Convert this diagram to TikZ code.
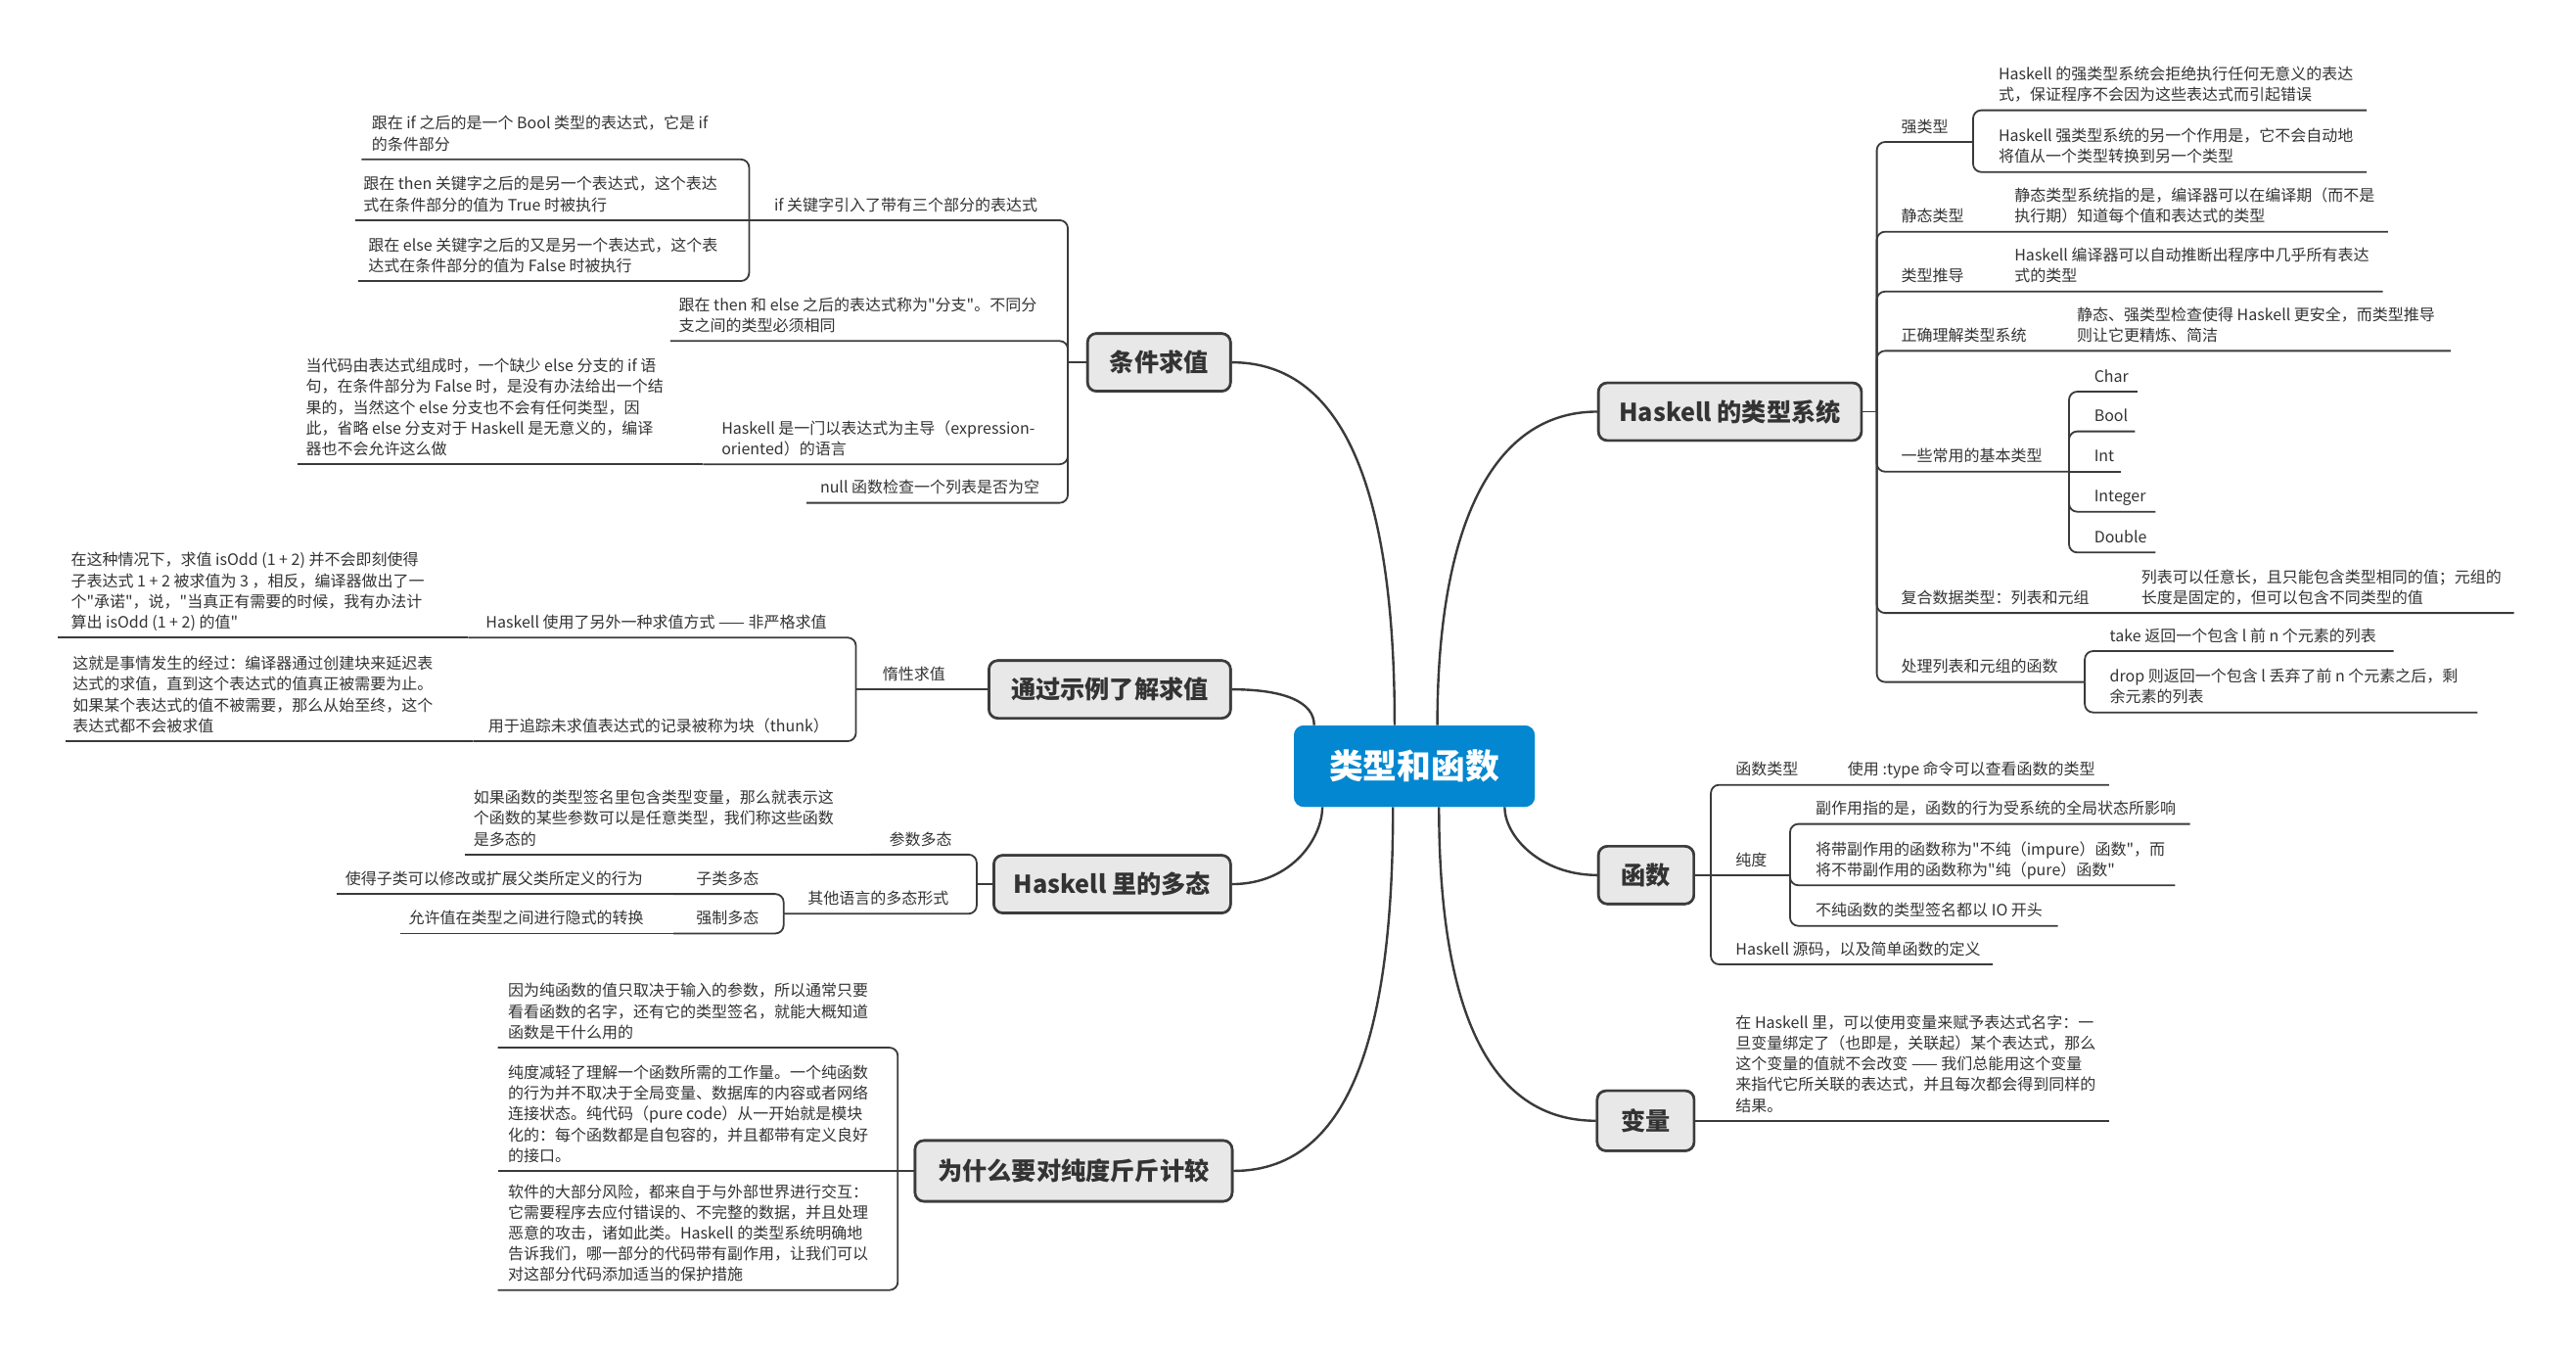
\documentclass[tikz,border=0pt]{standalone}
\usepackage{fontspec}
\setmainfont{Noto Sans CJK SC}[Ligatures=TeXOff]
\usetikzlibrary{calc}
\definecolor{linec}{HTML}{3A3A3A}
\definecolor{textc}{HTML}{333333}
\definecolor{boxfill}{HTML}{E8E8E8}
\definecolor{boxline}{HTML}{3C3C3C}
\definecolor{rootblue}{HTML}{0387D0}
\newcommand\leaffont{\fontsize{8}{10.6}\selectfont}
\newcommand\topicfont{\fontsize{12.6}{15}\selectfont\bfseries}
\newcommand\rootfont{\fontsize{17.4}{20}\selectfont\bfseries}
\tikzset{
  conn/.style={draw=linec, line width=0.9pt, rounded corners=4.2pt},
  branch/.style={draw=linec, line width=1.2pt},
  topic/.style={draw=boxline, fill=boxfill, line width=1.3pt, rounded corners=4.5pt,
    font=\topicfont, text=textc, minimum height=29.4pt, inner sep=0pt},
  root/.style={fill=rootblue, rounded corners=5pt, font=\rootfont, text=white,
    minimum width=123pt, minimum height=41.5pt, inner sep=0pt},
  txt/.style={anchor=south west, inner sep=0pt, align=left, font=\leaffont,
    text=textc, execute at end node=\strut},
}
\begin{document}
\begin{tikzpicture}[x=0.8393pt, y=-0.8393pt]
\useasboundingbox (0,0) rectangle (1568,824);

% ---------- central idea and main topics ----------
\node[root] (c) at (860.9,466.2) {类型和函数};
\node[topic, minimum width=73pt] (A) at (705.5,220.5) {条件求值};
\node[topic, minimum width=123.4pt] (B) at (675.5,419.5) {通过示例了解求值};
\node[topic, minimum width=120.9pt] (C) at (677,538) {Haskell 里的多态};
\node[topic, minimum width=162pt, minimum height=31pt] (D) at (653.5,712.5) {为什么要对纯度斤斤计较};
\node[topic, minimum width=134.3pt] (E) at (1053,250.5) {Haskell 的类型系统};
\node[topic, minimum width=48.7pt] (F) at (1002,532.5) {函数};
\node[topic, minimum width=49.5pt, minimum height=30.6pt] (G) at (1001.7,682) {变量};

% ---------- curved main branches ----------
\draw[branch] (A.east) .. controls (810,220.5) and ($(c.north)+(-12,-160)$) .. ($(c.north)+(-12,0)$);
\draw[branch] (B.east) .. controls (782,419.5) and ($(c.north)+(-61,-14)$) .. ($(c.north)+(-61,0)$);
\draw[branch] (C.east) .. controls (787,538) and ($(c.south)+(-56,18)$) .. ($(c.south)+(-56,0)$);
\draw[branch] (D.east) .. controls (825,712.5) and ($(c.south)+(-13,130)$) .. ($(c.south)+(-13,0)$);
\draw[branch] (E.west) .. controls (908,250.5) and ($(c.north)+(14,-120)$) .. ($(c.north)+(14,0)$);
\draw[branch] (F.west) .. controls (938,532.5) and ($(c.south)+(55,18)$) .. ($(c.south)+(55,0)$);
\draw[branch] (G.west) .. controls (900,682) and ($(c.south)+(15,110)$) .. ($(c.south)+(15,0)$);
\node[root] at (c) {类型和函数};

% ---------- 条件求值 ----------
\coordinate (jA) at (650,220.5);
\coordinate (jA1) at (456,134);
\coordinate (jA1a) at (220,97);
\coordinate (jA1b) at (216,134);
\coordinate (jA1c) at (218,171);
\coordinate (jA2) at (408,207.5);
\coordinate (jA3) at (428,282.5);
\coordinate (jA3a) at (181,282.5);
\coordinate (jA4) at (491,306);
\draw[conn] (A.west) -- (jA);
\draw[conn] (jA) |- (jA1);
\draw[conn] (jA1) |- (jA1a);
\draw[conn] (jA1) -- (jA1b);
\draw[conn] (jA1) |- (jA1c);
\draw[conn] (jA) |- (jA2);
\draw[conn] (jA) |- (jA3);
\draw[conn] (jA3) -- (jA3a);
\draw[conn] (jA) |- (jA4);
\node[txt] (tA1) at (471,132.2) {if 关键字引入了带有三个部分的表达式};
\node[txt] (tA1a) at (226,95.2) {跟在 if 之后的是一个 Bool 类型的表达式，它是 if\\的条件部分};
\node[txt] (tA1b) at (221,132.2) {跟在 then 关键字之后的是另一个表达式，这个表达\\式在条件部分的值为 True 时被执行};
\node[txt] (tA1c) at (224,169.2) {跟在 else 关键字之后的又是另一个表达式，这个表\\达式在条件部分的值为 False 时被执行};
\node[txt] (tA2) at (413,205.7) {跟在 then 和 else 之后的表达式称为"分支"。不同分\\支之间的类型必须相同};
\node[txt] (tA3) at (439,280.7) {Haskell 是一门以表达式为主导（expression-\\oriented）的语言};
\node[txt] (tA3a) at (186,280.7) {当代码由表达式组成时，一个缺少 else 分支的 if 语\\句，在条件部分为 False 时，是没有办法给出一个结\\果的，当然这个 else 分支也不会有任何类型，因\\此，省略 else 分支对于 Haskell 是无意义的，编译\\器也不会允许这么做};
\node[txt] (tA4) at (499,304.2) {null 函数检查一个列表是否为空};

% ---------- 通过示例了解求值 ----------
\coordinate (jB) at (521,419.5);
\coordinate (jB1) at (285,388);
\coordinate (jB1a) at (35,388);
\coordinate (jB2) at (288,451);
\coordinate (jB2a) at (40,451);
\draw[conn] (B.west) -- (jB);
\draw[conn] (jB) |- (jB1);
\draw[conn] (jB1) -- (jB1a);
\draw[conn] (jB) |- (jB2);
\draw[conn] (jB2) -- (jB2a);
\node[txt] (tB) at (537,417.7) {惰性求值};
\node[txt] (tB1) at (295.5,386.2) {Haskell 使用了另外一种求值方式 —— 非严格求值};
\node[txt] (tB1a) at (43,386.2) {在这种情况下，求值 isOdd (1 + 2) 并不会即刻使得\\子表达式 1 + 2 被求值为 3 ，相反，编译器做出了一\\个"承诺"，说，"当真正有需要的时候，我有办法计\\算出 isOdd (1 + 2) 的值"};
\node[txt] (tB2) at (297,449.2) {用于追踪未求值表达式的记录被称为块（thunk）};
\node[txt] (tB2a) at (44,449.2) {这就是事情发生的经过：编译器通过创建块来延迟表\\达式的求值，直到这个表达式的值真正被需要为止。\\如果某个表达式的值不被需要，那么从始至终，这个\\表达式都不会被求值};

% ---------- Haskell 里的多态 ----------
\coordinate (jC) at (594.5,538);
\coordinate (jC1) at (530,520);
\coordinate (jC1a) at (283,520);
\coordinate (jC2) at (477,556);
\coordinate (jC2a) at (410,544);
\coordinate (jC2a1) at (205,544);
\coordinate (jC2b) at (410,568);
\coordinate (jC2b1) at (243.5,568);
\draw[conn] (C.west) -- (jC);
\draw[conn] (jC) |- (jC1);
\draw[conn] (jC1) -- (jC1a);
\draw[conn] (jC) |- (jC2);
\draw[conn] (jC2) |- (jC2a);
\draw[conn] (jC2a) -- (jC2a1);
\draw[conn] (jC2) |- (jC2b);
\draw[conn] (jC2b) -- (jC2b1);
\node[txt] (tC1) at (541,518.2) {参数多态};
\node[txt] (tC1a) at (288,518.2) {如果函数的类型签名里包含类型变量，那么就表示这\\个函数的某些参数可以是任意类型，我们称这些函数\\是多态的};
\node[txt] (tC2) at (491.5,554.2) {其他语言的多态形式};
\node[txt] (tC2a) at (423.5,542.2) {子类多态};
\node[txt] (tC2a1) at (210,542.2) {使得子类可以修改或扩展父类所定义的行为};
\node[txt] (tC2b) at (423.5,566.2) {强制多态};
\node[txt] (tC2b1) at (248.5,566.2) {允许值在类型之间进行隐式的转换};

% ---------- 为什么要对纯度斤斤计较 ----------
\coordinate (jD) at (546.5,712.5);
\coordinate (jD1) at (303,637.5);
\coordinate (jD2) at (303,712.5);
\coordinate (jD3) at (303,785);
\draw[conn] (D.west) -- (jD);
\draw[conn] (jD) |- (jD1);
\draw[conn] (jD) -- (jD2);
\draw[conn] (jD) |- (jD3);
\node[txt] (tD1) at (309,635.7) {因为纯函数的值只取决于输入的参数，所以通常只要\\看看函数的名字，还有它的类型签名，就能大概知道\\函数是干什么用的};
\node[txt] (tD2) at (309,710.7) {纯度减轻了理解一个函数所需的工作量。一个纯函数\\的行为并不取决于全局变量、数据库的内容或者网络\\连接状态。纯代码（pure code）从一开始就是模块\\化的：每个函数都是自包容的，并且都带有定义良好\\的接口。};
\node[txt] (tD3) at (309,783.2) {软件的大部分风险，都来自于与外部世界进行交互：\\它需要程序去应付错误的、不完整的数据，并且处理\\恶意的攻击，诸如此类。Haskell 的类型系统明确地\\告诉我们，哪一部分的代码带有副作用，让我们可以\\对这部分代码添加适当的保护措施};

% ---------- Haskell 的类型系统 ----------
\coordinate (jE) at (1142.4,250.5);
\coordinate (jE1) at (1201,86.4);
\coordinate (jE1a) at (1440.6,67.1);
\coordinate (jE1b) at (1440.6,104.7);
\coordinate (jE2) at (1453.6,141);
\coordinate (jE3) at (1450.4,177.4);
\coordinate (jE4) at (1491.7,213.5);
\coordinate (jE5) at (1259.4,287);
\coordinate (jE5a) at (1301,238.3);
\coordinate (jE5b) at (1299.6,262.5);
\coordinate (jE5c) at (1291,287);
\coordinate (jE5d) at (1312,311.4);
\coordinate (jE5e) at (1312,336.2);
\coordinate (jE6) at (1530.3,373);
\coordinate (jE7) at (1269,415);
\coordinate (jE7a) at (1457,396.2);
\coordinate (jE7b) at (1508,433.5);
\draw[conn] (E.east) -- (jE);
\draw[conn] (jE) |- (jE1);
\draw[conn] (jE1) |- (jE1a);
\draw[conn] (jE1) |- (jE1b);
\draw[conn] (jE) |- (jE2);
\draw[conn] (jE) |- (jE3);
\draw[conn] (jE) |- (jE4);
\draw[conn] (jE) |- (jE5);
\draw[conn] (jE5) |- (jE5a);
\draw[conn] (jE5) |- (jE5b);
\draw[conn] (jE5) -- (jE5c);
\draw[conn] (jE5) |- (jE5d);
\draw[conn] (jE5) |- (jE5e);
\draw[conn] (jE) |- (jE6);
\draw[conn] (jE) |- (jE7);
\draw[conn] (jE7) |- (jE7a);
\draw[conn] (jE7) |- (jE7b);
\node[txt] (tE1) at (1157,84.6) {强类型};
\node[txt] (tE1a) at (1216.3,65.3) {Haskell 的强类型系统会拒绝执行任何无意义的表达\\式，保证程序不会因为这些表达式而引起错误};
\node[txt] (tE1b) at (1216.3,102.9) {Haskell 强类型系统的另一个作用是，它不会自动地\\将值从一个类型转换到另一个类型};
\node[txt] (tE2) at (1157,139.2) {静态类型};
\node[txt] (tE2a) at (1226,139.2) {静态类型系统指的是，编译器可以在编译期（而不是\\执行期）知道每个值和表达式的类型};
\node[txt] (tE3) at (1157,175.6) {类型推导};
\node[txt] (tE3a) at (1226,175.6) {Haskell 编译器可以自动推断出程序中几乎所有表达\\式的类型};
\node[txt] (tE4) at (1157,211.7) {正确理解类型系统};
\node[txt] (tE4a) at (1264,211.7) {静态、强类型检查使得 Haskell 更安全，而类型推导\\则让它更精炼、简洁};
\node[txt] (tE5) at (1157,285.2) {一些常用的基本类型};
\node[txt] (tE5a) at (1274.5,236.5) {Char};
\node[txt] (tE5b) at (1274.5,260.7) {Bool};
\node[txt] (tE5c) at (1274.5,285.2) {Int};
\node[txt] (tE5d) at (1274.5,309.6) {Integer};
\node[txt] (tE5e) at (1274.5,334.4) {Double};
\node[txt] (tE6) at (1157,371.2) {复合数据类型：列表和元组};
\node[txt] (tE6a) at (1303.2,371.2) {列表可以任意长，且只能包含类型相同的值；元组的\\长度是固定的，但可以包含不同类型的值};
\node[txt] (tE7) at (1157,413.2) {处理列表和元组的函数};
\node[txt] (tE7a) at (1284,394.4) {take 返回一个包含 l 前 n 个元素的列表};
\node[txt] (tE7b) at (1284,431.7) {drop 则返回一个包含 l 丢弃了前 n 个元素之后，剩\\余元素的列表};

% ---------- 函数 ----------
\coordinate (jF) at (1041.4,532.5);
\coordinate (jF1) at (1283.8,477.6);
\coordinate (jF2) at (1089.6,532.5);
\coordinate (jF2a) at (1333,501.4);
\coordinate (jF2b) at (1324,538.7);
\coordinate (jF2c) at (1252.6,563.4);
\coordinate (jF3) at (1213,586.8);
\draw[conn] (F.east) -- (jF);
\draw[conn] (jF) |- (jF1);
\draw[conn] (jF) -- (jF2);
\draw[conn] (jF2) |- (jF2a);
\draw[conn] (jF2) |- (jF2b);
\draw[conn] (jF2) |- (jF2c);
\draw[conn] (jF) |- (jF3);
\node[txt] (tF1) at (1056.3,475.8) {函数类型};
\node[txt] (tF1a) at (1124.5,475.8) {使用 :type 命令可以查看函数的类型};
\node[txt] (tF2) at (1056.3,530.7) {纯度};
\node[txt] (tF2a) at (1105,499.6) {副作用指的是，函数的行为受系统的全局状态所影响};
\node[txt] (tF2b) at (1105,536.9) {将带副作用的函数称为"不纯（impure）函数"，而\\将不带副作用的函数称为"纯（pure）函数"};
\node[txt] (tF2c) at (1105,561.6) {不纯函数的类型签名都以 IO 开头};
\node[txt] (tF3) at (1056.3,585) {Haskell 源码，以及简单函数的定义};

% ---------- 变量 ----------
\coordinate (jG) at (1283.8,682);
\draw[conn] (G.east) -- (jG);
\node[txt] (tG1) at (1056.3,680.2) {在 Haskell 里，可以使用变量来赋予表达式名字：一\\旦变量绑定了（也即是，关联起）某个表达式，那么\\这个变量的值就不会改变 —— 我们总能用这个变量\\来指代它所关联的表达式，并且每次都会得到同样的\\结果。};

% main topic boxes on top of their branch ends
\node[topic, minimum width=73pt] at (A) {条件求值};
\node[topic, minimum width=123.4pt] at (B) {通过示例了解求值};
\node[topic, minimum width=120.9pt] at (C) {Haskell 里的多态};
\node[topic, minimum width=162pt, minimum height=31pt] at (D) {为什么要对纯度斤斤计较};
\node[topic, minimum width=134.3pt] at (E) {Haskell 的类型系统};
\node[topic, minimum width=48.7pt] at (F) {函数};
\node[topic, minimum width=49.5pt, minimum height=30.6pt] at (G) {变量};
\end{tikzpicture}
\end{document}
